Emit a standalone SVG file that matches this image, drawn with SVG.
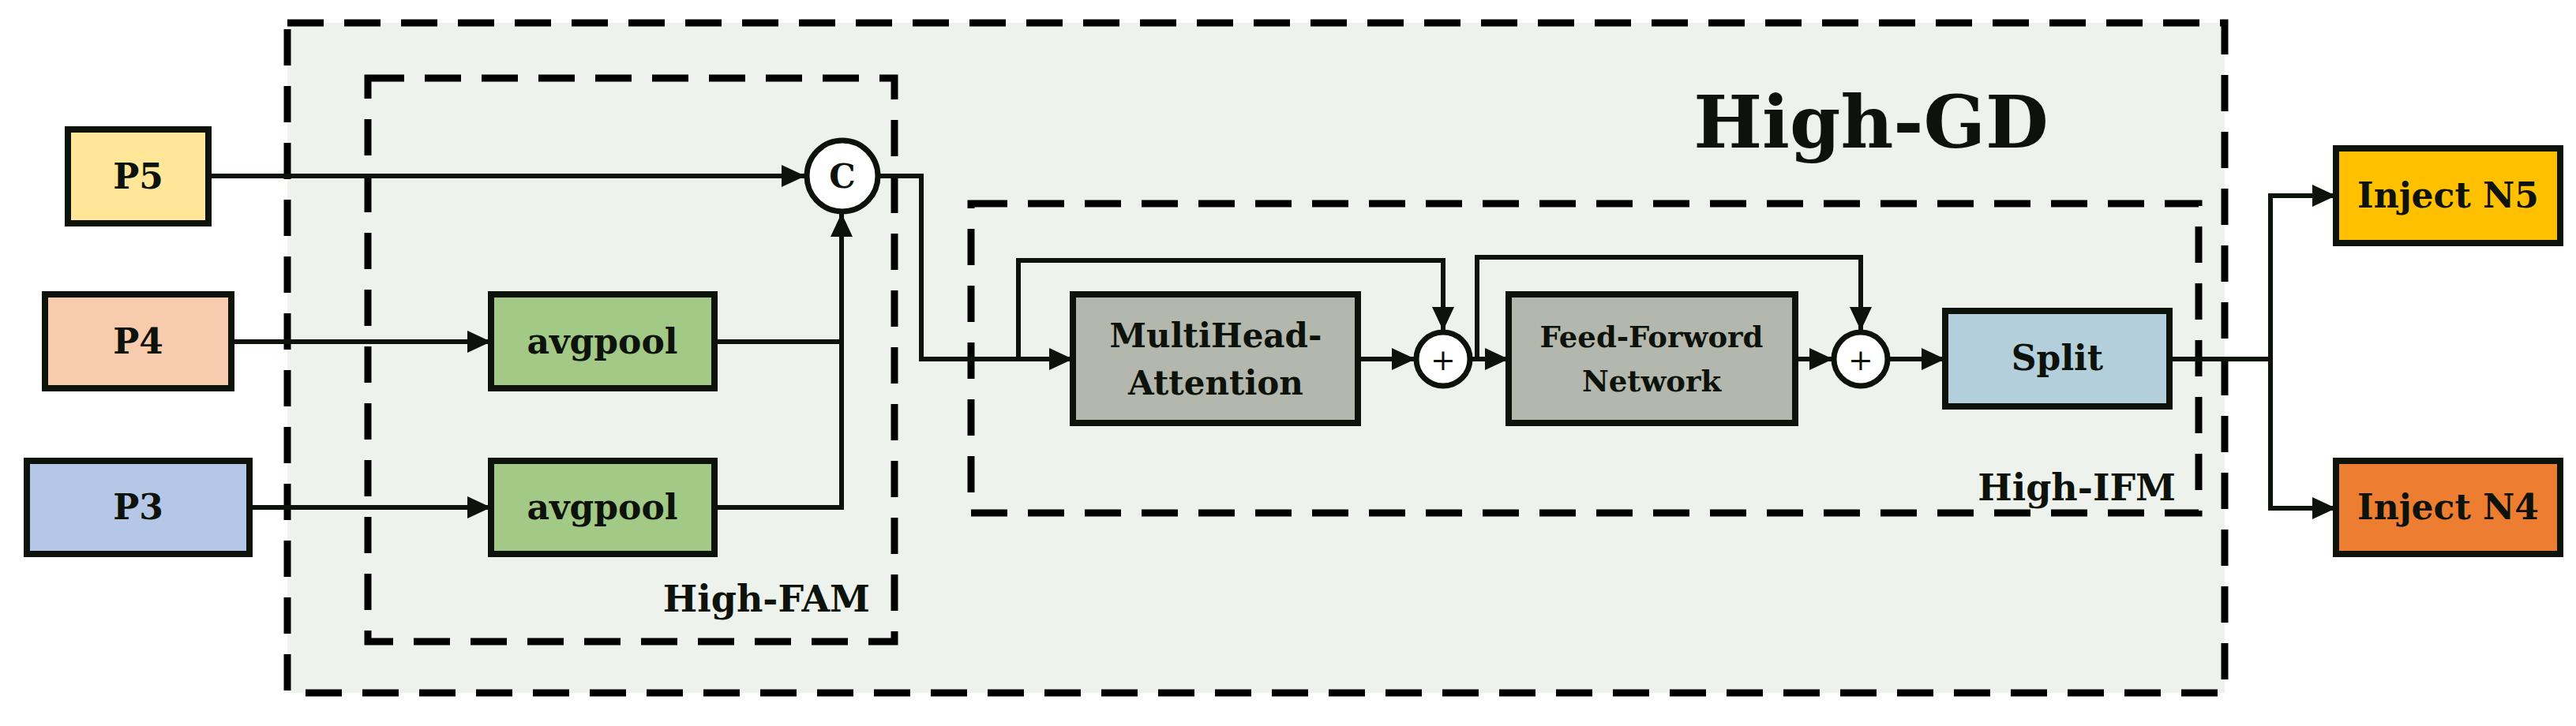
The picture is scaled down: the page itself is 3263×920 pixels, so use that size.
<svg xmlns="http://www.w3.org/2000/svg" width="3263" height="920" viewBox="0 0 3263 920">
<style>
.box{stroke:#0d120a;stroke-width:8}
.dash{fill:none;stroke:#000;stroke-width:9;stroke-dasharray:46,26}
.ln{fill:none;stroke:#0d120a;stroke-width:6}
text{font-family:"DejaVu Serif","Liberation Serif",serif;font-weight:bold;fill:#0d120a;text-anchor:middle}
.lbl{font-size:44px}
</style>
<defs>
<marker id="a" markerWidth="8" markerHeight="8" refX="7.5" refY="4" orient="auto" markerUnits="userSpaceOnUse" viewBox="0 0 8 8" style="overflow:visible">
<path d="M-22,-10 L8,4 L-22,18 Z" transform="translate(0,0)" fill="#0d120a"/>
</marker>
<marker id="m" markerWidth="30" markerHeight="28" refX="30" refY="14" orient="auto" markerUnits="userSpaceOnUse">
<path d="M0,0 L30,14 L0,28 Z" fill="#0d120a"/>
</marker>
</defs>
<rect x="0" y="0" width="3263" height="920" fill="#fff"/>
<g id="high-gd">
<rect x="364" y="29" width="2454" height="849" fill="#eef2ec"/>
<rect class="dash" x="364" y="29" width="2454" height="849"/>
<text x="2370" y="187" style="font-size:92px">High-GD</text>
</g>
<g id="high-fam">
<rect class="dash" x="466" y="99" width="667" height="714"/>
<text x="1102" y="775" style="font-size:46px;text-anchor:end">High-FAM</text>
</g>
<g id="high-ifm">
<rect class="dash" x="1230" y="258" width="1555" height="392"/>
<text x="2756" y="634" style="font-size:46px;text-anchor:end">High-IFM</text>
</g>
<g id="connectors">
<path class="ln" marker-end="url(#m)" d="M264,223 H1020"/>
<path class="ln" marker-end="url(#m)" d="M293,433 H622"/>
<path class="ln" marker-end="url(#m)" d="M316,643 H622"/>
<path class="ln" d="M905,433 H1066"/>
<path class="ln" marker-end="url(#m)" d="M905,643 H1066 V270"/>
<path class="ln" marker-end="url(#m)" d="M1113,223 H1167 V455 H1359"/>
<path class="ln" marker-end="url(#m)" d="M1290,455 V330 H1828 V419"/>
<path class="ln" marker-end="url(#m)" d="M1720,455 H1793"/>
<path class="ln" marker-end="url(#m)" d="M1863,455 H1911"/>
<path class="ln" marker-end="url(#m)" d="M1871,455 V326 H2357 V419"/>
<path class="ln" marker-end="url(#m)" d="M2274,455 H2322"/>
<path class="ln" marker-end="url(#m)" d="M2392,455 H2464"/>
<path class="ln" d="M2748,455 H2876"/>
<path class="ln" marker-end="url(#m)" d="M2876,455 V248 H2959"/>
<path class="ln" marker-end="url(#m)" d="M2876,455 V644 H2959"/>
</g>
<g id="p5"><rect class="box" x="86" y="164" width="178" height="119" fill="#ffe699"/><text class="lbl" x="175" y="239">P5</text></g>
<g id="p4"><rect class="box" x="57" y="373" width="236" height="119" fill="#f8cbad"/><text class="lbl" x="175" y="448">P4</text></g>
<g id="p3"><rect class="box" x="34" y="584" width="282" height="118" fill="#b4c7e7"/><text class="lbl" x="175" y="658">P3</text></g>
<g id="avgpool1"><rect class="box" x="622" y="373" width="283" height="119" fill="#a3c986"/><text class="lbl" x="763" y="448">avgpool</text></g>
<g id="avgpool2"><rect class="box" x="622" y="584" width="283" height="118" fill="#a3c986"/><text class="lbl" x="763" y="658">avgpool</text></g>
<g id="concat"><circle cx="1067" cy="223" r="45" fill="#fff" stroke="#0d120a" stroke-width="7"/><text x="1067" y="238" style="font-size:42px">C</text></g>
<g id="mha"><rect class="box" x="1359" y="373" width="361" height="163" fill="#b3b7ae"/><text x="1540" y="440" style="font-size:42px">MultiHead-</text><text x="1540" y="500" style="font-size:42px">Attention</text></g>
<g id="plus1"><circle cx="1828" cy="455" r="34" fill="#fff" stroke="#0d120a" stroke-width="7"/><text x="1828" y="469" style="font-size:38px;font-weight:normal">+</text></g>
<g id="ffn"><rect class="box" x="1911" y="373" width="363" height="163" fill="#b3b7ae"/><text x="2092" y="440" style="font-size:37px">Feed-Forword</text><text x="2092" y="496" style="font-size:37px">Network</text></g>
<g id="plus2"><circle cx="2357" cy="455" r="34" fill="#fff" stroke="#0d120a" stroke-width="7"/><text x="2357" y="469" style="font-size:38px;font-weight:normal">+</text></g>
<g id="split"><rect class="box" x="2464" y="394" width="284" height="121" fill="#b4cfdc"/><text class="lbl" x="2606" y="469">Split</text></g>
<g id="n5"><rect class="box" x="2959" y="188" width="284" height="120" fill="#ffc000"/><text class="lbl" x="3101" y="263">Inject N5</text></g>
<g id="n4"><rect class="box" x="2959" y="584" width="284" height="118" fill="#ed7d31"/><text class="lbl" x="3101" y="658">Inject N4</text></g>
</svg>
